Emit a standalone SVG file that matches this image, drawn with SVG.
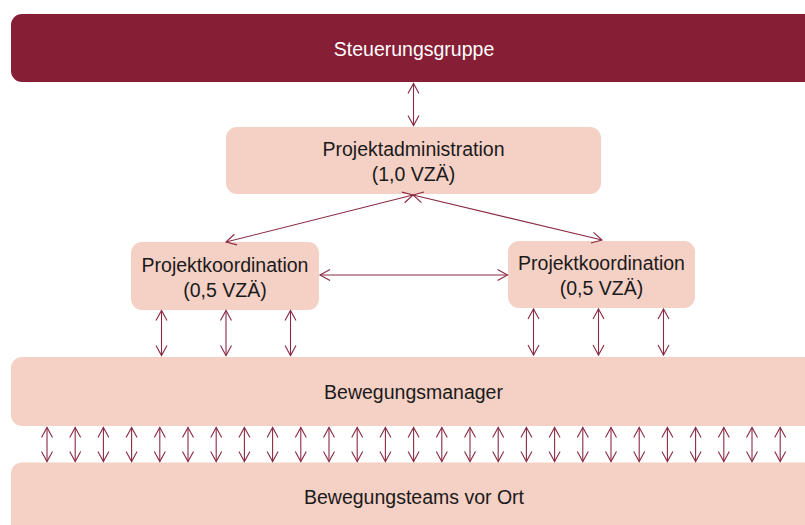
<svg xmlns="http://www.w3.org/2000/svg" width="805" height="525" viewBox="0 0 805 525">
<style>
.dark{fill:#861E35}
.light{fill:#F5D0C5}
.t{font-family:"Liberation Sans",Arial,sans-serif;font-size:19.5px;text-anchor:middle;fill:#1a1a1a}
.tw{fill:#ffffff}
.c{stroke:#8A2A42;stroke-width:1.1;fill:none;marker-start:url(#ah);marker-end:url(#ah)}
</style>
<defs>
<marker id="ah" markerUnits="userSpaceOnUse" viewBox="-12 -7 14 14" markerWidth="14" markerHeight="14" refX="0" refY="0" orient="auto-start-reverse" overflow="visible">
<path d="M-10,-5.5 L0,0 L-10,5.5" fill="none" stroke="#8A2A42" stroke-width="1.1"/>
</marker>
</defs>
<rect width="805" height="525" fill="#ffffff"/>
<g id="steuerungsgruppe">
<rect class="dark" x="11" y="14" width="830" height="68" rx="11"/>
<text class="t tw" x="414" y="55.5">Steuerungsgruppe</text>
</g>
<g id="projektadministration">
<rect class="light" x="226" y="127" width="375" height="67" rx="11"/>
<text class="t" x="413.5" y="156">Projektadministration</text>
<text class="t" x="413.5" y="181">(1,0 VZÄ)</text>
</g>
<g id="projektkoordination-links">
<rect class="light" x="131" y="242" width="188" height="68" rx="11"/>
<text class="t" x="225" y="272">Projektkoordination</text>
<text class="t" x="225" y="297">(0,5 VZÄ)</text>
</g>
<g id="projektkoordination-rechts">
<rect class="light" x="508" y="241" width="187" height="67" rx="11"/>
<text class="t" x="601.5" y="269.5">Projektkoordination</text>
<text class="t" x="601.5" y="294.5">(0,5 VZÄ)</text>
</g>
<g id="bewegungsmanager">
<rect class="light" x="11" y="357" width="830" height="69" rx="11"/>
<text class="t" x="413.5" y="399">Bewegungsmanager</text>
</g>
<g id="bewegungsteams">
<rect class="light" x="11" y="462.5" width="830" height="100" rx="11"/>
<text class="t" x="414" y="504">Bewegungsteams vor Ort</text>
</g>
<g id="connectors">
<line class="c" x1="413.5" y1="83.5" x2="413.5" y2="125.5"/>
<line class="c" x1="413" y1="195" x2="226" y2="242"/>
<line class="c" x1="413" y1="195" x2="602" y2="240"/>
<line class="c" x1="320" y1="275" x2="507.5" y2="275"/>
<line class="c" x1="161.5" y1="310.5" x2="161.5" y2="355.5"/>
<line class="c" x1="226" y1="310.5" x2="226" y2="355.5"/>
<line class="c" x1="290.5" y1="310.5" x2="290.5" y2="355.5"/>
<line class="c" x1="533.5" y1="309" x2="533.5" y2="355"/>
<line class="c" x1="598.5" y1="309" x2="598.5" y2="355"/>
<line class="c" x1="663.5" y1="309" x2="663.5" y2="355"/>
<line class="c" x1="47" y1="427.5" x2="47" y2="461.5"/>
<line class="c" x1="75.2" y1="427.5" x2="75.2" y2="461.5"/>
<line class="c" x1="103.4" y1="427.5" x2="103.4" y2="461.5"/>
<line class="c" x1="131.6" y1="427.5" x2="131.6" y2="461.5"/>
<line class="c" x1="159.8" y1="427.5" x2="159.8" y2="461.5"/>
<line class="c" x1="188" y1="427.5" x2="188" y2="461.5"/>
<line class="c" x1="216.2" y1="427.5" x2="216.2" y2="461.5"/>
<line class="c" x1="244.4" y1="427.5" x2="244.4" y2="461.5"/>
<line class="c" x1="272.6" y1="427.5" x2="272.6" y2="461.5"/>
<line class="c" x1="300.8" y1="427.5" x2="300.8" y2="461.5"/>
<line class="c" x1="329" y1="427.5" x2="329" y2="461.5"/>
<line class="c" x1="357.2" y1="427.5" x2="357.2" y2="461.5"/>
<line class="c" x1="385.4" y1="427.5" x2="385.4" y2="461.5"/>
<line class="c" x1="413.6" y1="427.5" x2="413.6" y2="461.5"/>
<line class="c" x1="441.8" y1="427.5" x2="441.8" y2="461.5"/>
<line class="c" x1="470" y1="427.5" x2="470" y2="461.5"/>
<line class="c" x1="498.2" y1="427.5" x2="498.2" y2="461.5"/>
<line class="c" x1="526.4" y1="427.5" x2="526.4" y2="461.5"/>
<line class="c" x1="554.6" y1="427.5" x2="554.6" y2="461.5"/>
<line class="c" x1="582.8" y1="427.5" x2="582.8" y2="461.5"/>
<line class="c" x1="611" y1="427.5" x2="611" y2="461.5"/>
<line class="c" x1="639.2" y1="427.5" x2="639.2" y2="461.5"/>
<line class="c" x1="667.4" y1="427.5" x2="667.4" y2="461.5"/>
<line class="c" x1="695.6" y1="427.5" x2="695.6" y2="461.5"/>
<line class="c" x1="723.8" y1="427.5" x2="723.8" y2="461.5"/>
<line class="c" x1="752" y1="427.5" x2="752" y2="461.5"/>
<line class="c" x1="780.2" y1="427.5" x2="780.2" y2="461.5"/>
</g>
</svg>
